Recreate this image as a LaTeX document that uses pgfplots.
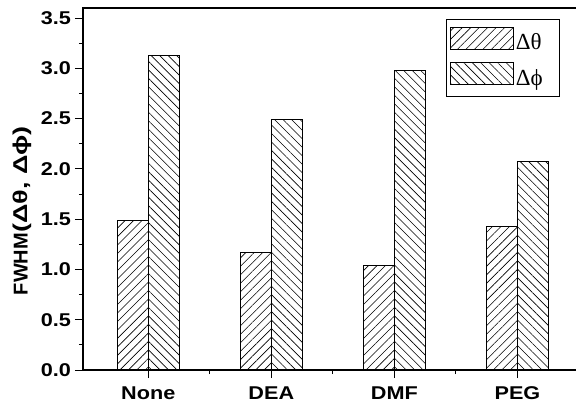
\documentclass[border=0pt]{standalone}
\usepackage{fontspec}
\setmainfont{Liberation Sans}
\newfontfamily\serifgreek{Liberation Serif}
\usepackage{graphicx}
\usepackage{pgfplots}
\pgfplotsset{compat=1.18}
\usetikzlibrary{patterns.meta}

% FWHM of the two angular spreads for each additive
\pgfplotstableread{
x  theta  phi
1  1.49   3.13
2  1.17   2.49
3  1.04   2.98
4  1.43   2.07
}\fwhmdata

\begin{document}
\begin{tikzpicture}
\begin{axis}[
  name=ax,
  scale only axis,
  width=496pt, height=362pt,
  xmin=0.47, xmax=4.5,
  ymin=0, ymax=3.6,
  axis line style={line width=1.2pt},
  tick align=outside,
  xtick pos=bottom, ytick pos=left,
  xtick={1,2,3,4},
  xticklabels={None,DEA,DMF,PEG},
  minor xtick={1.5,2.5,3.5},
  ytick={0,0.5,...,3.5},
  minor y tick num=1,
  major tick length=8pt,
  minor tick length=4pt,
  every tick/.style={black, line width=0.9pt},
  ticklabel style={font=\bfseries\fontsize{18.5}{18.5}\selectfont, xscale=1.17},
  xticklabel style={yshift=-5pt},
  yticklabel style={/pgf/number format/.cd, fixed, fixed zerofill, precision=1, assume math mode=true},
  ylabel={FWHM\scalebox{1.35}[1]{(Δθ, Δϕ)}},
  ylabel style={font=\bfseries\fontsize{20}{20}\selectfont, at={(axis description cs:-0.122,0.44)}, anchor=center},
  ybar=0pt,
  bar width=31pt,
  legend cell align=left,
  legend style={at={(axis description cs:0.962,0.9696)}, anchor=north east,
    draw=black, line width=0.8pt,
    font=\serifgreek\fontsize{23}{23}\selectfont,
    inner xsep=4pt, inner ysep=8pt, row sep=9pt,
    nodes={inner xsep=2pt}},
  legend image code/.code={%
    \draw[#1, line width=0.6pt] (0pt,-7pt) rectangle (63pt,15pt);},
]
\addplot[draw=black, line width=0.8pt,
  pattern={Lines[angle=45, distance=6pt, line width=0.6pt]}]
  table[x=x, y=theta] {\fwhmdata};
\addlegendentry{\makebox[38pt][l]{Δθ}}
\addplot[draw=black, line width=0.8pt,
  pattern={Lines[angle=-45, distance=6pt, line width=0.6pt]}]
  table[x=x, y=phi] {\fwhmdata};
\addlegendentry{\makebox[38pt][l]{Δϕ}}
\end{axis}
\pgfresetboundingbox
\path ([xshift=-83pt,yshift=-35pt]ax.south west) rectangle ([xshift=493pt,yshift=8pt]ax.north west);
\end{tikzpicture}
\end{document}
